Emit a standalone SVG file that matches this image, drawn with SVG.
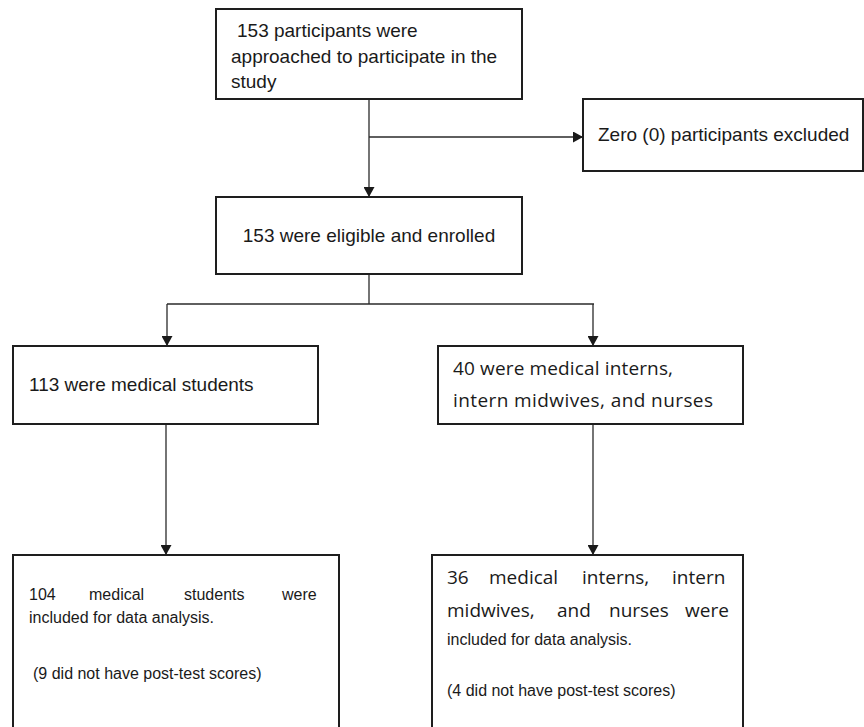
<svg xmlns="http://www.w3.org/2000/svg" width="864" height="727" viewBox="0 0 864 727">
<style>
.box{fill:#fff;stroke:#1e1e1e;stroke-width:2}
.conn{fill:none;stroke:#2a2a2a;stroke-width:1.3}
.a{font-family:"Liberation Sans",Arial,sans-serif;font-size:19px;fill:#1a1a1a}
.s{font-family:"Liberation Sans",Arial,sans-serif;font-size:16px;fill:#1a1a1a}
.c{font-family:"Open Sans","Noto Sans",sans-serif;font-size:19px;fill:#1a1a1a}
</style>
<defs>
<marker id="arr" markerUnits="userSpaceOnUse" markerWidth="11" markerHeight="11" viewBox="0 0 10 11" refX="10" refY="5.5" orient="auto">
<path d="M0,0 L10,5.5 L0,11 z" fill="#1a1a1a"/>
</marker>
</defs>
<rect width="864" height="727" fill="#fff"/>
<g id="connectors">
<line class="conn" x1="369" y1="99" x2="369" y2="197" marker-end="url(#arr)"/>
<line class="conn" x1="369" y1="137" x2="583" y2="137" marker-end="url(#arr)"/>
<polyline class="conn" points="369,274 369,304"/>
<line class="conn" x1="167" y1="304" x2="594" y2="304"/>
<line class="conn" x1="167" y1="304" x2="167" y2="346" marker-end="url(#arr)"/>
<line class="conn" x1="593" y1="304" x2="593" y2="346" marker-end="url(#arr)"/>
<line class="conn" x1="166" y1="424" x2="166" y2="555" marker-end="url(#arr)"/>
<line class="conn" x1="593" y1="424" x2="593" y2="555" marker-end="url(#arr)"/>
</g>
<g id="n1">
<rect class="box" x="216" y="9" width="306" height="90"/>
<text class="a" x="237" y="37">153 participants were</text>
<text class="a" x="231" y="63">approached to participate in the</text>
<text class="a" x="231" y="88">study</text>
</g>
<g id="n2">
<rect class="box" x="583" y="99" width="280" height="72"/>
<text class="a" x="598" y="141">Zero (0) participants excluded</text>
</g>
<g id="n3">
<rect class="box" x="216" y="197" width="306" height="77"/>
<text class="a" x="369" y="242" text-anchor="middle">153 were eligible and enrolled</text>
</g>
<g id="n4">
<rect class="box" x="13" y="346" width="305" height="78"/>
<text class="a" x="29" y="391">113 were medical students</text>
</g>
<g id="n5">
<rect class="box" x="438" y="346" width="305" height="78"/>
<text class="c" x="453" y="375" textLength="220">40 were medical interns,</text>
<text class="c" x="453" y="407" textLength="260">intern midwives, and nurses</text>
</g>
<g id="n6">
<rect class="box" x="13" y="555" width="326" height="185"/>
<text class="s" y="600"><tspan x="29">104</tspan><tspan x="89">medical</tspan><tspan x="184">students</tspan><tspan x="282">were</tspan></text>
<text class="s" x="29" y="623">included for data analysis.</text>
<text class="s" x="33" y="679">(9 did not have post-test scores)</text>
</g>
<g id="n7">
<rect class="box" x="432" y="555" width="311" height="185"/>
<text class="c" y="584"><tspan x="447">36</tspan><tspan x="489">medical</tspan><tspan x="582">interns,</tspan><tspan x="672">intern</tspan></text>
<text class="c" y="617"><tspan x="447">midwives,</tspan><tspan x="557">and</tspan><tspan x="609">nurses</tspan><tspan x="685">were</tspan></text>
<text class="s" x="447" y="645">included for data analysis.</text>
<text class="s" x="447" y="696">(4 did not have post-test scores)</text>
</g>
</svg>
